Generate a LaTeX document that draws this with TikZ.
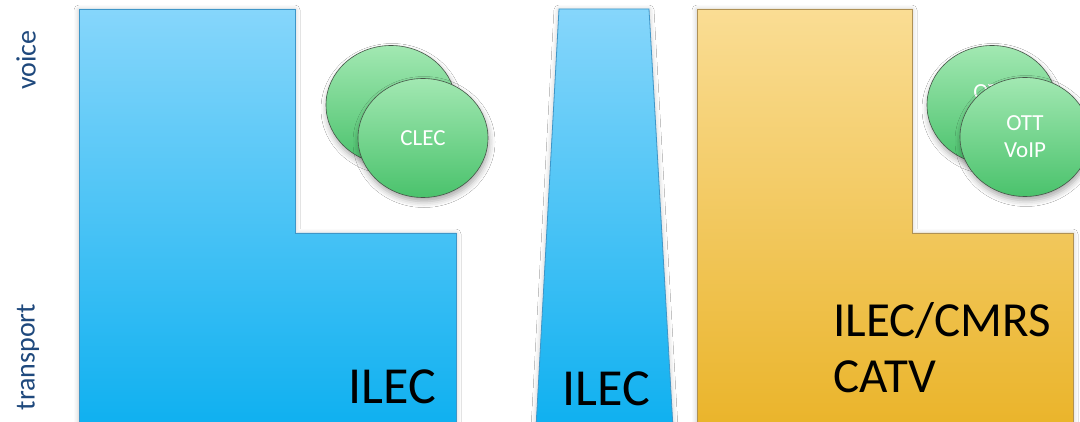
\documentclass[tikz,border=0pt]{standalone}
\usepackage{fontspec}
\setmainfont{Carlito}
\usetikzlibrary{shapes.geometric,shadows.blur}

\definecolor{bluetop}{RGB}{134,214,251}
\definecolor{bluebot}{RGB}{14,176,240}
\definecolor{blueline}{RGB}{62,150,200}
\definecolor{goldtop}{RGB}{250,221,148}
\definecolor{goldbot}{RGB}{234,180,42}
\definecolor{goldline}{RGB}{175,145,85}
\definecolor{greentop}{RGB}{162,232,178}
\definecolor{greenbot}{RGB}{74,194,108}
\definecolor{greenline}{RGB}{70,85,72}
\definecolor{layertext}{RGB}{31,73,125}

\tikzset{
  blueblock/.style={top color=bluetop, bottom color=bluebot, draw=blueline, line width=0.8pt,
    blur shadow={shadow xshift=0pt, shadow yshift=-1pt, shadow blur radius=5pt, shadow opacity=25}},
  goldblock/.style={top color=goldtop, bottom color=goldbot, draw=goldline, line width=0.8pt,
    blur shadow={shadow xshift=0pt, shadow yshift=-1pt, shadow blur radius=5pt, shadow opacity=25}},
  bubble/.style={ellipse, minimum width=130pt, minimum height=119pt, inner sep=0pt,
    top color=greentop, bottom color=greenbot, draw=greenline, line width=0.6pt,
    text=white, align=center, font=\fontsize{23}{27}\selectfont,
    blur shadow={shadow xshift=1pt, shadow yshift=-4pt, shadow blur radius=6pt, shadow opacity=35}},
  bubbletext/.style={text=white, font=\fontsize{23}{27}\selectfont},
  layerlabel/.style={rotate=90, text=layertext, font=\fontsize{28}{30}\selectfont},
  biglabel/.style={font=\fontsize{52}{56}\selectfont, text=black},
}

\begin{document}
\begin{tikzpicture}[x=1pt, y=-1pt]
  \useasboundingbox[fill=white] (0,0) rectangle (1080,422);

  % layer names
  \node[layerlabel] (voice) at (26,60) {voice};
  \node[layerlabel] (transport) at (28,357) {transport};

  % incumbent carrier: voice and transport
  \path[blueblock] (79,9) -- (295,9) -- (295,233) -- (456,233) -- (456,428) -- (79,428) -- cycle;
  \node[biglabel, anchor=base] (ilecA) at (392,403) {ILEC};

  % tapering incumbent column
  \path[blueblock] (559,9) -- (649,9) -- (673,428) -- (536,428) -- cycle;
  \node[biglabel, anchor=base] (ilecB) at (606,405) {ILEC};

  % competing transport providers
  \path[goldblock] (697,9) -- (912,9) -- (912,233) -- (1073,233) -- (1073,428) -- (697,428) -- cycle;
  \node[biglabel, anchor=base west, font=\fontsize{49}{55}\selectfont] (cmrs) at (830,337) {ILEC/CMRS};
  \node[biglabel, anchor=base west, font=\fontsize{49}{55}\selectfont] (catv) at (830,392) {CATV};

  % voice providers riding on top
  \node[bubble] (clecback) at (391,105) {};
  \node[bubble] (clec) at (423,138) {CLEC};
  \node[bubble] (ottback) at (992,105) {};
  \node[bubbletext] (ottbacktext) at (992,92) {OTT};
  \node[bubble] (ott) at (1025,137) {OTT\\VoIP};
\end{tikzpicture}
\end{document}
